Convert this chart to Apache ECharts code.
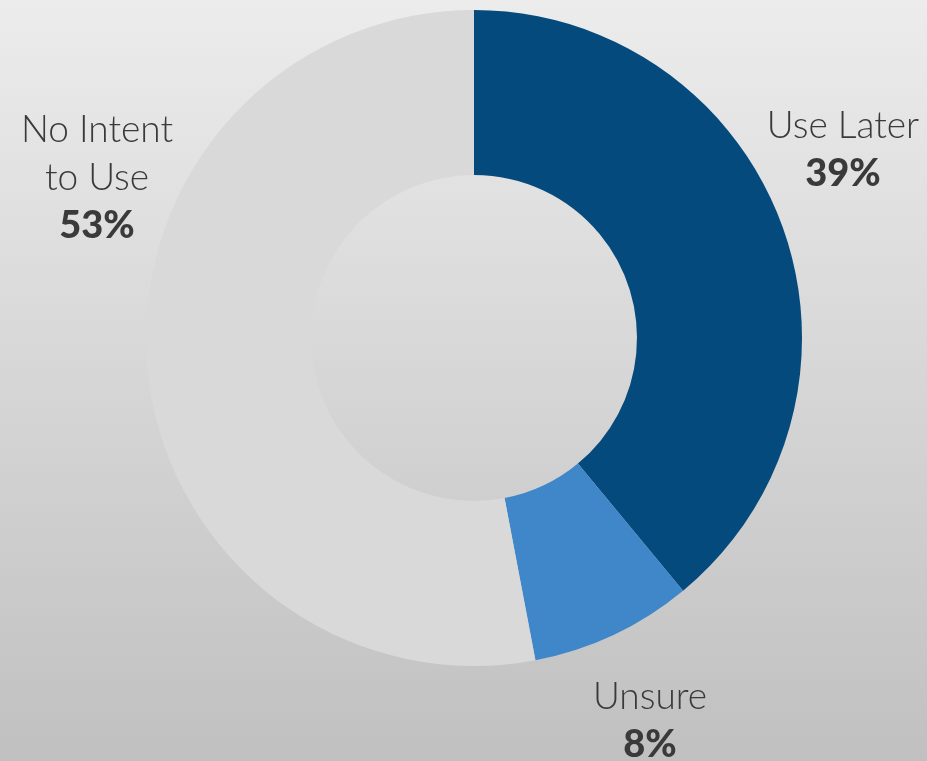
<!DOCTYPE html>
<html>
<head>
<meta charset="utf-8">
<script src="https://cdn.jsdelivr.net/npm/echarts@6/dist/echarts.min.js"></script>
<style>
  html, body { margin: 0; padding: 0; }
  #chart { width: 927px; height: 761px; }
</style>
</head>
<body>
<div id="chart"></div>
<script>
// Survey response shares
const categories = ['Use Later', 'Unsure', 'No Intent\nto Use'];
const shares = [39, 8, 53];
const sliceColors = ['#054a7d', '#3f87c8', '#d9d9d9'];

// Label anchor points (centre of each text block)
const labelAnchors = [[843, 150], [650, 721], [97, 178]];

const chart = echarts.init(document.getElementById('chart'));

chart.setOption({
  backgroundColor: {
    type: 'linear', x: 0, y: 0, x2: 0, y2: 1,
    colorStops: [
      { offset: 0, color: '#ececec' },
      { offset: 1, color: '#c0c0c0' }
    ]
  },
  series: [{
    type: 'pie',
    center: [474, 338],
    radius: [163, 328],
    startAngle: 90,
    clockwise: true,
    silent: true,
    data: categories.map((name, i) => ({
      name: name,
      value: shares[i],
      itemStyle: { color: sliceColors[i] }
    })),
    labelLine: { show: false },
    label: {
      show: true,
      position: 'outside',
      overflow: 'none',
      formatter: '{n|{b}}\n{p|{d}%}',
      rich: {
        n: {
          fontFamily: 'Lato',
          fontWeight: 300,
          fontSize: 37,
          color: '#3a3a3a',
          lineHeight: 48,
          align: 'center'
        },
        p: {
          fontFamily: 'Lato',
          fontWeight: 900,
          fontSize: 38,
          color: '#3a3a3a',
          lineHeight: 48,
          align: 'center'
        }
      }
    },
    labelLayout: function (params) {
      const a = labelAnchors[params.dataIndex];
      return { x: a[0], y: a[1], align: 'center', verticalAlign: 'middle' };
    }
  }]
});
</script>
</body>
</html>
